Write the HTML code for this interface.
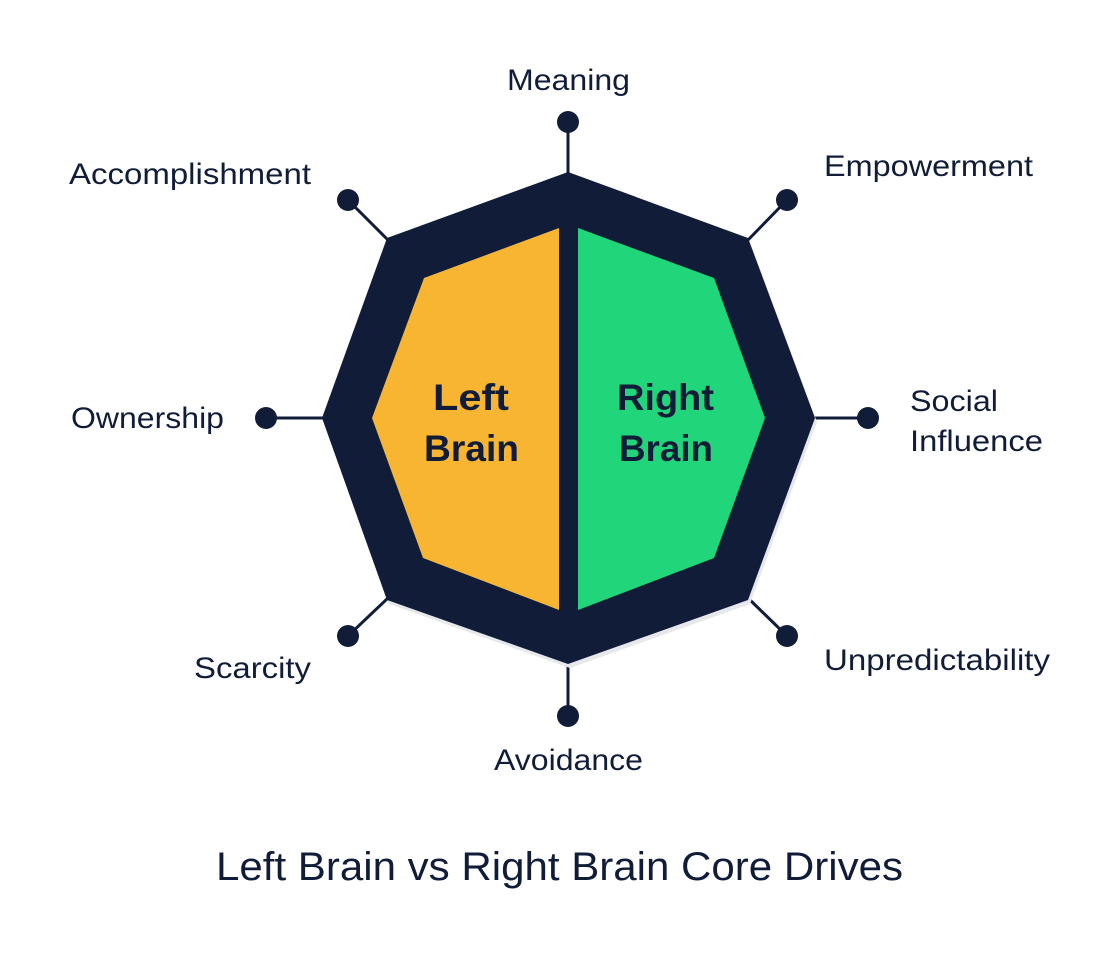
<!DOCTYPE html>
<html><head><meta charset="utf-8"><style>
html,body{margin:0;padding:0;background:#fff;}
svg{display:block;}
text{font-family:"Liberation Sans",sans-serif;fill:#111d38;}
</style></head><body>
<svg width="1120" height="960" viewBox="0 0 1120 960" xmlns="http://www.w3.org/2000/svg">
<rect width="1120" height="960" fill="#fff"/>
<g stroke="#111d38" stroke-width="3">
<line x1="568" y1="122" x2="568" y2="175"/>
<line x1="348" y1="200" x2="388" y2="240"/>
<line x1="787" y1="200" x2="748" y2="240"/>
<line x1="266" y1="418" x2="325" y2="418"/>
<line x1="868" y1="418" x2="812" y2="418"/>
<line x1="348" y1="636" x2="388" y2="598"/>
<line x1="787" y1="636" x2="748" y2="598"/>
<line x1="568" y1="716" x2="568" y2="660"/>
</g>
<g fill="#111d38">
<circle cx="568" cy="122" r="11"/>
<circle cx="348" cy="200" r="11"/>
<circle cx="787" cy="200" r="11"/>
<circle cx="266" cy="418" r="11"/>
<circle cx="868" cy="418" r="11"/>
<circle cx="348" cy="636" r="11"/>
<circle cx="787" cy="636" r="11"/>
<circle cx="568" cy="716" r="11"/>
</g>
<polygon points="570,176 750,242 817,422 750,604 570,668 389,604 324,422 389,242" fill="#e6e8ec"/>
<polygon points="568,172 748,238 815,418 748,600 568,664 387,600 322,418 387,238" fill="#111d38"/>
<polygon points="424,278 559,228 559,610 423,558 372,418" fill="#f8b531"/>
<polygon points="578,228 714,278 765,418 714,558 578,610" fill="#20d57a"/>
<g font-size="30">
<text x="507" y="90" textLength="123" lengthAdjust="spacingAndGlyphs">Meaning</text>
<text x="69" y="184" textLength="242" lengthAdjust="spacingAndGlyphs">Accomplishment</text>
<text x="824" y="176" textLength="209" lengthAdjust="spacingAndGlyphs">Empowerment</text>
<text x="71" y="428" textLength="153" lengthAdjust="spacingAndGlyphs">Ownership</text>
<text x="910" y="411" textLength="88" lengthAdjust="spacingAndGlyphs">Social</text>
<text x="910" y="451" textLength="133" lengthAdjust="spacingAndGlyphs">Influence</text>
<text x="194" y="678" textLength="117" lengthAdjust="spacingAndGlyphs">Scarcity</text>
<text x="824" y="670" textLength="226" lengthAdjust="spacingAndGlyphs">Unpredictability</text>
<text x="494" y="770" textLength="149" lengthAdjust="spacingAndGlyphs">Avoidance</text>
</g>
<g font-size="37" font-weight="bold">
<text x="433" y="410" textLength="76" lengthAdjust="spacingAndGlyphs">Left</text>
<text x="424" y="461" textLength="95" lengthAdjust="spacingAndGlyphs">Brain</text>
<text x="617" y="410" textLength="97" lengthAdjust="spacingAndGlyphs">Right</text>
<text x="619" y="461" textLength="94" lengthAdjust="spacingAndGlyphs">Brain</text>
</g>
<text x="216" y="880" font-size="40" textLength="687" lengthAdjust="spacingAndGlyphs">Left Brain vs Right Brain Core Drives</text>
</svg>
</body></html>
